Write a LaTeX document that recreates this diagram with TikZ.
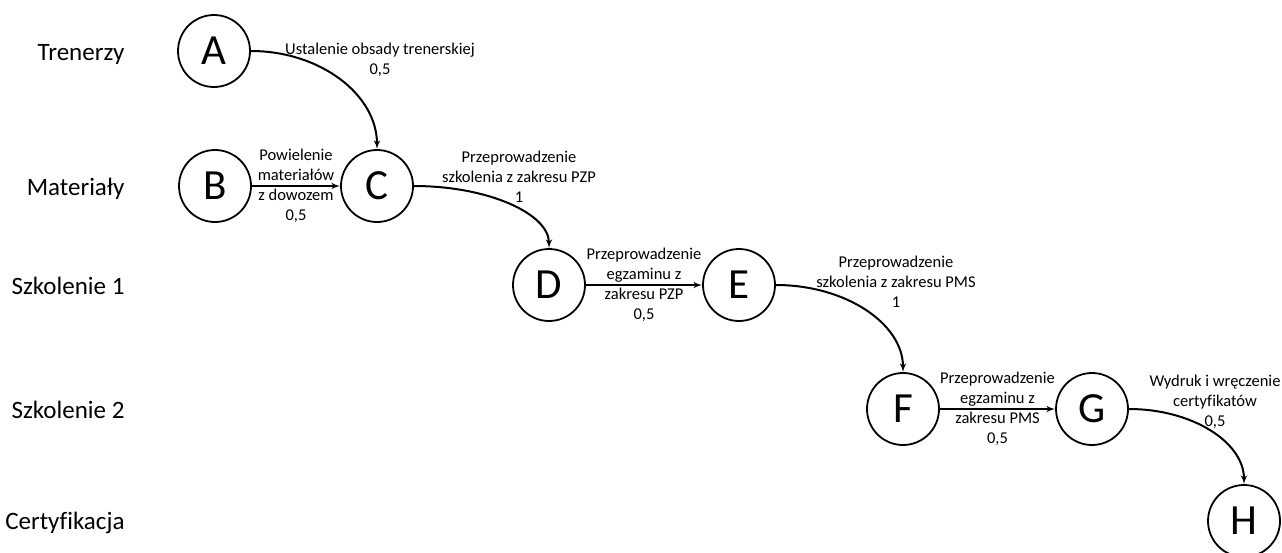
\documentclass[tikz,border=0pt]{standalone}
\usepackage{fontspec}
\setmainfont[Ligatures=NoCommon]{Carlito}
\usetikzlibrary{arrows}

\begin{document}
\begin{tikzpicture}
[x=1pt, y=-1pt,
event/.style = {circle, draw, line width=1.8pt, minimum size=72pt, inner sep=0pt, font=\fontsize{43}{43}\selectfont},
lane/.style  = {anchor=base east, font=\fontsize{25}{30}\selectfont},
task/.style  = {align=center, inner sep=0pt, font=\fontsize{16.5}{20}\selectfont},
line/.style  = {draw, line width=2pt, -latex'}
]

\useasboundingbox (0,0) rectangle (1282,552);

% lanes
\node [lane] (trenerzy)  at (128,60)  {Trenerzy};
\node [lane] (materialy) at (128,195) {Materiały};
\node [lane] (szkol1)    at (128,294) {Szkolenie 1};
\node [lane] (szkol2)    at (128,418) {Szkolenie 2};
\node [lane] (certyf)    at (128,529) {Certyfikacja};

% events
\node [event] (A) at (214,51)   {A};
\node [event] (B) at (215,186)  {B};
\node [event] (C) at (377,186)  {C};
\node [event] (D) at (549,285)  {D};
\node [event] (E) at (739,285)  {E};
\node [event] (F) at (903,409)  {F};
\node [event] (G) at (1092,409) {G};
\node [event] (H) at (1244,521) {H};

% labels of the curved tasks
\node [task] (t_ac) at (380,60)   {Ustalenie obsady trenerskiej\\0,5};
\node [task] (t_cd) at (519,177)  {Przeprowadzenie\\szkolenia z zakresu PZP\\1};
\node [task] (t_ef) at (896,282)  {Przeprowadzenie\\szkolenia z zakresu PMS\\1};
\node [task] (t_gh) at (1215,402) {Wydruk i wręczenie\\certyfikatów\\0,5};

\begin{scope}[every path/.style=line]
\path (A) to [out=0,in=90,out looseness=1.11,in looseness=0.87] (C);
\path (B) -- node [task] {Powielenie\\materiałów\\z dowozem\\0,5} (C);
\path (C) to [out=0,in=90,out looseness=1.28,in looseness=0.59] (D);
\path (D) -- node [task] {Przeprowadzenie\\egzaminu z\\zakresu PZP\\0,5} (E);
\path (E) to [out=0,in=90,out looseness=1.16,in looseness=0.8] (F);
\path (F) -- node [task] {Przeprowadzenie\\egzaminu z\\zakresu PMS\\0,5} (G);
\path (G) to [out=0,in=90,out looseness=1.18,in looseness=0.78] (H);
\end{scope}

\end{tikzpicture}
\end{document}
